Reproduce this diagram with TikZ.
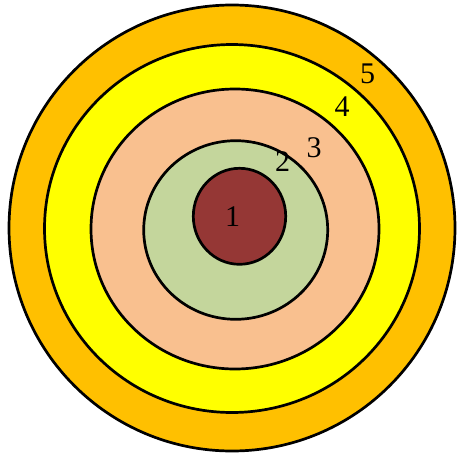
\documentclass[tikz,border=0pt]{standalone}
\usepackage{fontspec}
\setmainfont{Liberation Serif}
\usepackage{xcolor}
\usepackage{tikz}
\definecolor{ringfive}{HTML}{FFC000}
\definecolor{ringfour}{HTML}{FFFF00}
\definecolor{ringthree}{HTML}{F9C08F}
\definecolor{ringtwo}{HTML}{C4D69C}
\definecolor{ringone}{HTML}{953735}

\begin{document}
\begin{tikzpicture}[x=1pt, y=-1pt, ring/.style={draw=black, line width=2.7pt}, lbl/.style={inner sep=0pt, font=\fontsize{30}{30}\selectfont}]
 			\useasboundingbox (0,0) rectangle (457,452);
 			\draw[ring, fill=ringfive] (232,228) ellipse [x radius=223, y radius=223];
 			\draw[ring, fill=ringfour] (232,228.5) ellipse [x radius=187.5, y radius=184];
 			\draw[ring, fill=ringthree] (235,229) ellipse [x radius=144, y radius=140];
 			\draw[ring, fill=ringtwo] (235.7,230) ellipse [x radius=92, y radius=89.3];
 			\draw[ring, fill=ringone] (239.5,216.3) ellipse [x radius=46.2, y radius=48];
 			
 			\node (one) [lbl] at (232.7,217) {1};
 			\node (two) [lbl] at (282.7,162) {2};
 			\node (three) [lbl] at (314,148) {3};
 			\node (four) [lbl] at (342,107) {4};
 			\node (five) [lbl] at (367.7,74) {5};
 		\end{tikzpicture}
\end{document}
